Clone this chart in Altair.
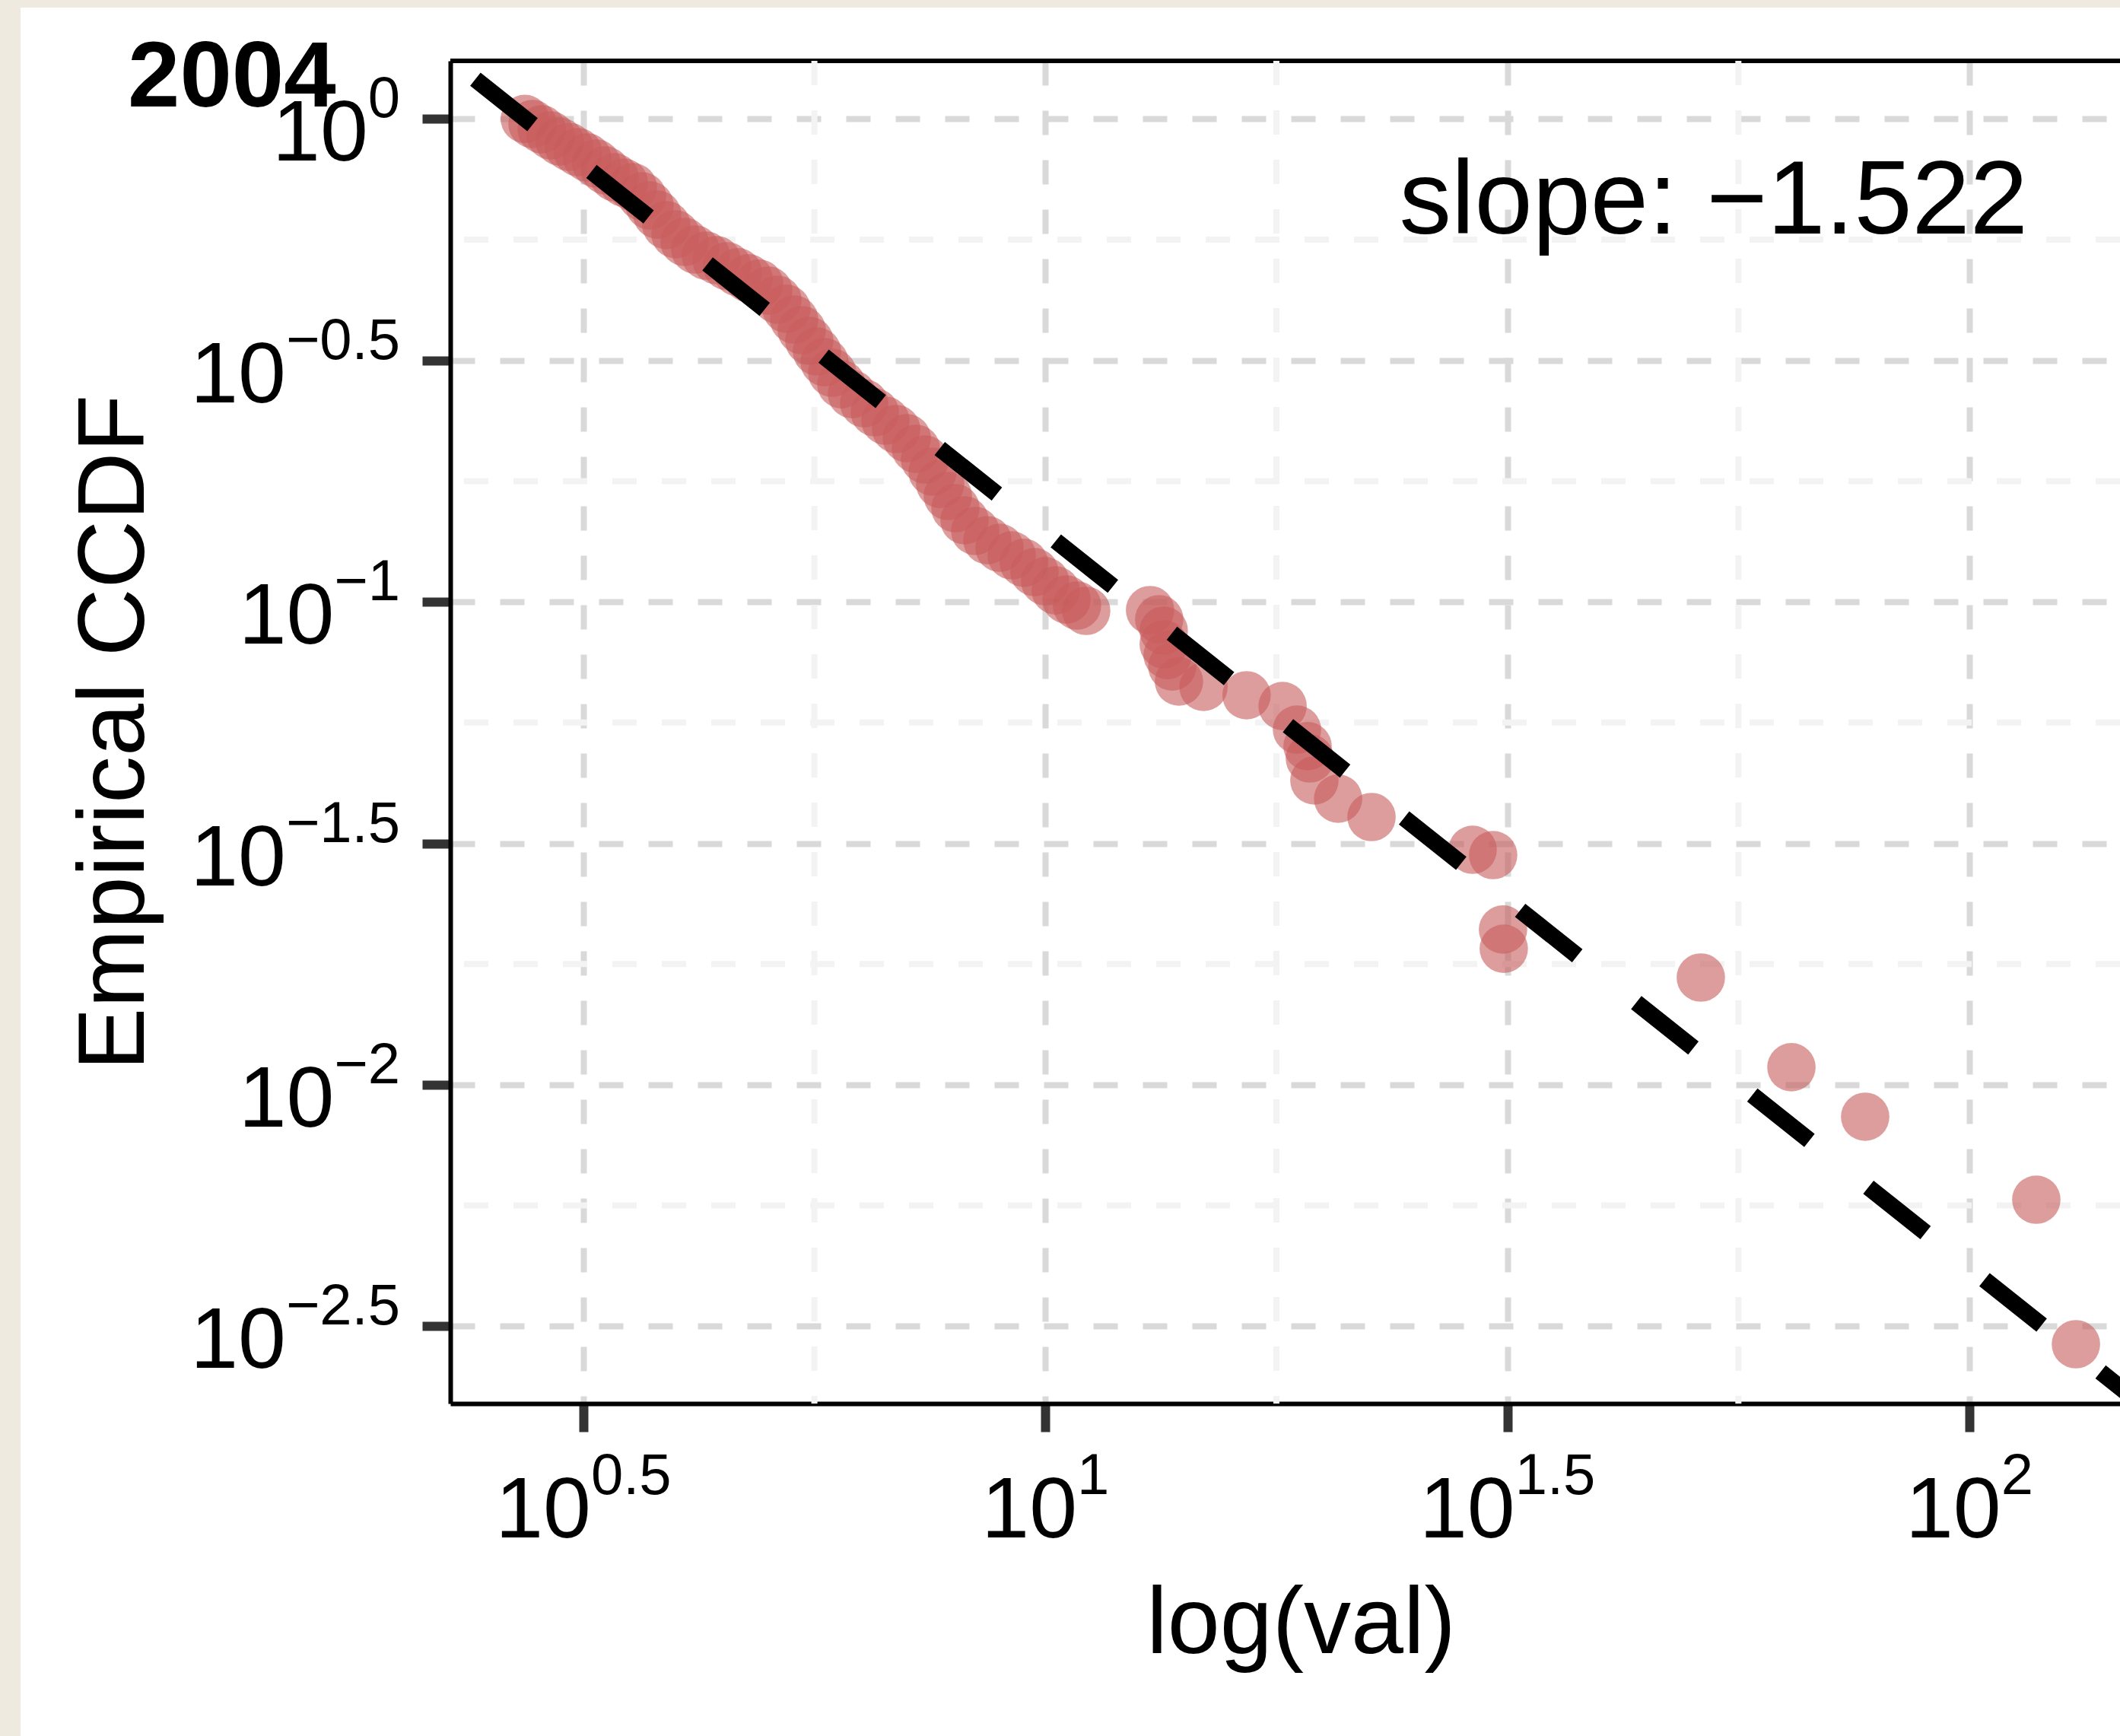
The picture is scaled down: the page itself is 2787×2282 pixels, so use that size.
import altair as alt
import pandas as pd

# ---------------- data ----------------
ccdf_x = [2.733, 2.786, 2.850, 2.915, 2.982, 3.051, 3.120, 3.192, 3.266, 3.341,
          3.418, 3.497, 3.577, 3.660, 3.730, 3.801, 3.888, 3.978, 4.069, 4.179,
          4.291, 4.407, 4.525, 4.647, 4.772, 4.900, 5.013, 5.128, 5.246, 5.347,
          5.449, 5.553, 5.660, 5.768, 5.879, 6.014, 6.176, 6.366, 6.537, 6.713,
          6.894, 7.079, 7.242, 7.408, 7.550, 7.694, 7.842, 7.992, 8.176, 8.396,
          8.655, 8.920, 9.194, 9.477, 9.732, 9.993, 10.26, 10.54, 10.82, 11.07,
          12.98, 13.28, 13.43, 13.43, 13.56, 13.72, 13.95, 14.83, 16.51, 18.06,
          18.72, 19.22, 19.33, 19.55, 20.74, 22.54, 29.00, 30.52, 31.28, 31.34,
          51.21, 64.18, 77.13, 118.15, 130.41]
ccdf_y = [1.0, 0.976, 0.9515, 0.9243, 0.8978, 0.8754, 0.8535, 0.832, 0.8082, 0.7822,
          0.7571, 0.7381, 0.7222, 0.6914, 0.6619, 0.6336, 0.6026, 0.5769, 0.5563, 0.5365,
          0.5211, 0.5099, 0.4954, 0.4813, 0.4675, 0.4558, 0.4411, 0.4223, 0.4044, 0.3842,
          0.3652, 0.3471, 0.3299, 0.3135, 0.2981, 0.2822, 0.2692, 0.2577, 0.2468, 0.2372,
          0.2279, 0.2182, 0.2074, 0.1971, 0.186, 0.1754, 0.1656, 0.1563, 0.1475, 0.1402,
          0.1341, 0.1294, 0.1248, 0.1204, 0.1152, 0.1103, 0.1056, 0.1011, 0.09824, 0.09577,
          0.09612, 0.09203, 0.08716, 0.08165, 0.07759, 0.07348, 0.06837, 0.06665, 0.06404, 0.06085,
          0.05437, 0.05023, 0.04739, 0.04266, 0.03912, 0.03584, 0.03066, 0.02989, 0.02096, 0.01913,
          0.01667, 0.01087, 0.008585, 0.00578, 0.002902]

fit_x = [2.416, 200.0]
fit_y = [1.2087, 0.001456]
slope_text = "slope: \u22121.522"
panel_title = "2004"

x_tick_vals = [10 ** 0.5, 10 ** 1, 10 ** 1.5, 10 ** 2]
x_tick_exp = ["0.5", "1", "1.5", "2"]
y_tick_vals = [10 ** 0, 10 ** -0.5, 10 ** -1, 10 ** -1.5, 10 ** -2, 10 ** -2.5]
y_tick_exp = ["0", "\u22120.5", "\u22121", "\u22121.5", "\u22122", "\u22122.5"]
x_minor = [10 ** 0.75, 10 ** 1.25, 10 ** 1.75]
y_minor = [10 ** -0.25, 10 ** -0.75, 10 ** -1.25, 10 ** -1.75, 10 ** -2.25]

x_domain = [2.2698, 145.55]
y_domain = [0.0021867, 1.3189]

# ---------------- styling ----------------
W, H = 2195, 1765
PAD = {"left": 592, "top": 80, "right": 0, "bottom": 437}
FONT = "Liberation Sans"
BASE_FS = 113
EXP_FS = 76
BEIGE = "#EEEAE0"
PT_COLOR = "#C85C5C"
ADV = {"0": 0.556, "1": 0.556, "2": 0.556, "3": 0.556, "4": 0.556, "5": 0.556,
       "6": 0.556, "7": 0.556, "8": 0.556, "9": 0.556, ".": 0.278, "\u2212": 0.584}


def adv(s, fs):
    return sum(ADV[c] for c in s) * fs


xscale = alt.Scale(type="log", domain=x_domain, nice=False)
yscale = alt.Scale(type="log", domain=y_domain, nice=False)

x_axis = alt.Axis(values=x_tick_vals, labels=False, ticks=True, tickSize=37, tickWidth=12,
                  tickColor="#333333", domain=True, domainColor="black", domainWidth=6,
                  grid=True, gridColor="#D9D9D9", gridWidth=8, gridDash=[32, 33],
                  title="log(val)", titleFont=FONT, titleFontSize=124,
                  titleFontWeight="normal", titleColor="black", titleX=1118, titleY=327,
                  titleAlign="center", titleBaseline="alphabetic")
y_axis = alt.Axis(values=y_tick_vals, labels=False, ticks=True, tickSize=37, tickWidth=12,
                  tickColor="#333333", domain=True, domainColor="black", domainWidth=6,
                  grid=True, gridColor="#D9D9D9", gridWidth=8, gridDash=[32, 33],
                  title="Empirical CCDF", titleFont=FONT, titleFontSize=124,
                  titleFontWeight="normal", titleColor="black", titleAngle=270,
                  titleX=-404, titleY=H / 2, titleAlign="center", titleBaseline="alphabetic")


def X(field):
    return alt.X(field, scale=xscale, axis=x_axis)


def Y(field):
    return alt.Y(field, scale=yscale, axis=y_axis)


one = pd.DataFrame({"k": [0]})

# beige page strips (left and top)
left_strip = alt.Chart(one).mark_rect(color=BEIGE).encode(
    x=alt.value(-PAD["left"]), x2=alt.value(-PAD["left"] + 27),
    y=alt.value(-PAD["top"]), y2=alt.value(H + PAD["bottom"]))
top_strip = alt.Chart(one).mark_rect(color=BEIGE).encode(
    x=alt.value(-PAD["left"]), x2=alt.value(W),
    y=alt.value(-PAD["top"]), y2=alt.value(-PAD["top"] + 10))

# top frame line
top_line = alt.Chart(one).mark_rule(color="black", strokeWidth=6).encode(
    y=alt.value(0), x=alt.value(0), x2=alt.value(W))

# minor grid
minor_h = alt.Chart(pd.DataFrame({"ym": y_minor})).mark_rule(
    color="#F3F3F3", strokeWidth=8, strokeDash=[32, 33]).encode(y=Y("ym:Q"))
minor_v = alt.Chart(pd.DataFrame({"xm": x_minor})).mark_rule(
    color="#F3F3F3", strokeWidth=8, strokeDash=[32, 33]).encode(x=X("xm:Q"))

points = alt.Chart(pd.DataFrame({"val": ccdf_x, "ccdf": ccdf_y})).mark_circle(
    color=PT_COLOR, opacity=0.6, size=4050).encode(x=X("val:Q"), y=Y("ccdf:Q"))

fit = alt.Chart(pd.DataFrame({"val": fit_x, "ccdf": fit_y})).mark_line(
    color="black", strokeWidth=22, strokeDash=[96, 99], strokeCap="butt", clip=True).encode(
    x=X("val:Q"), y=Y("ccdf:Q"))

label_layers = []
# y tick labels: "10" + superscript exponent, right aligned
for v, e in zip(y_tick_vals, y_tick_exp):
    d = pd.DataFrame({"ccdf": [v]})
    w = adv(e, EXP_FS)
    label_layers.append(alt.Chart(d).mark_text(
        text="10", font=FONT, fontSize=BASE_FS, color="black", align="right",
        baseline="alphabetic", dy=55).encode(x=alt.value(-66 - w), y=Y("ccdf:Q")))
    label_layers.append(alt.Chart(d).mark_text(
        text=e, font=FONT, fontSize=EXP_FS, color="black", align="right",
        baseline="alphabetic", dy=-2).encode(x=alt.value(-66), y=Y("ccdf:Q")))

# x tick labels: block centred under tick
w10 = adv("10", BASE_FS)
for v, e in zip(x_tick_vals, x_tick_exp):
    d = pd.DataFrame({"val": [v]})
    split = (w10 - adv(e, EXP_FS)) / 2
    label_layers.append(alt.Chart(d).mark_text(
        text="10", font=FONT, fontSize=BASE_FS, color="black", align="right",
        baseline="alphabetic", dx=split).encode(x=X("val:Q"), y=alt.value(H + 176)))
    label_layers.append(alt.Chart(d).mark_text(
        text=e, font=FONT, fontSize=EXP_FS, color="black", align="left",
        baseline="alphabetic", dx=split).encode(x=X("val:Q"), y=alt.value(H + 119)))

slope = alt.Chart(one).mark_text(
    text=slope_text, font=FONT, fontSize=137, color="black", align="right",
    baseline="alphabetic").encode(x=alt.value(2074), y=alt.value(227))

title = alt.Chart(one).mark_text(
    text=panel_title, font=FONT, fontSize=123, fontWeight="bold", color="black",
    align="left", baseline="alphabetic").encode(x=alt.value(-424), y=alt.value(60))

chart = alt.layer(
    left_strip, top_strip, top_line, minor_h, minor_v, points, fit, slope, title,
    *label_layers
).properties(
    width=W, height=H, padding=PAD,
    autosize=alt.AutoSizeParams(type="none"),
    background="white",
).configure_view(stroke="transparent")

chart.save("out.html", embed_options={"renderer": "svg", "actions": False})
